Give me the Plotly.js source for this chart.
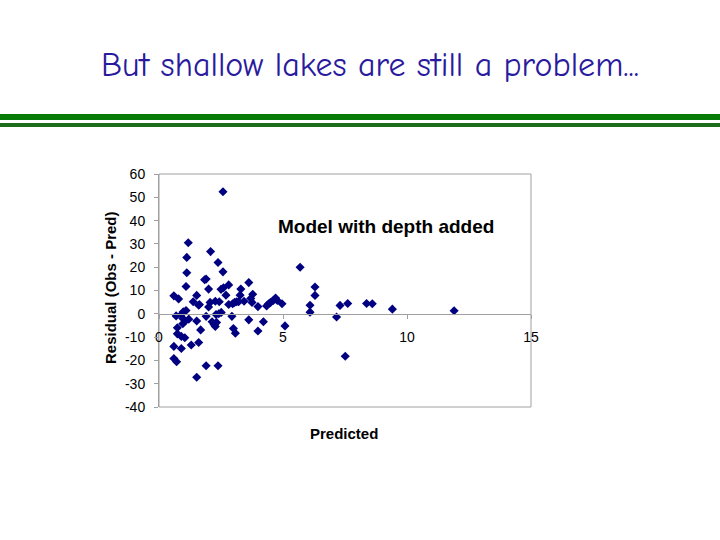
<!DOCTYPE html>
<html>
<head>
<meta charset="utf-8">
<script src="https://cdn.plot.ly/plotly-3.0.1.min.js"></script>
<style>
html,body{margin:0;padding:0;background:#fff;}
#chart{width:720px;height:540px;}
</style>
</head>
<body>
<div id="chart"></div>
<script>
// Predicted values (x) and residuals (y)
var predicted = [
  2.58, 1.18, 1.12, 2.08, 2.38, 1.12, 2.58, 1.09, 1.84, 1.90,
  2.00, 2.50, 2.60, 2.81, 3.62, 3.30, 1.52, 0.60, 2.70, 3.78,
  4.70, 0.79, 1.60, 0.69, 0.90, 0.98, 1.09, 0.96, 1.06, 1.20,
  0.96, 0.74, 0.74, 0.90, 1.04, 0.60, 0.90, 0.60, 0.71, 1.30,
  1.60, 1.52, 1.68, 1.38, 1.63, 1.52, 1.90, 2.38, 1.90, 2.00,
  2.06, 2.14, 2.22, 2.27, 2.32, 2.30, 2.41, 2.51, 2.27, 2.43,
  2.94, 3.00, 3.08, 2.81, 2.97, 3.05, 3.13, 3.21, 3.27, 3.43,
  3.62, 3.70, 3.75, 3.99, 4.21, 3.99, 4.34, 4.42, 4.50, 4.61,
  4.77, 4.96, 5.08, 5.69, 6.29, 6.29, 6.09, 6.09, 7.16, 7.30,
  7.61, 7.51, 8.37, 8.60, 9.41, 11.9
];
var residual = [
  52.4, 30.5, 24.2, 26.7, 22.0, 17.6, 18.0, 11.7, 14.6, 14.9,
  10.6, 10.5, 11.2, 12.4, 13.4, 10.6, 7.9, 7.7, 8.0, 8.4,
  6.8, 6.4, 3.7, -0.9, -0.3, 0.9, 1.4, -2.0, -3.1, -2.3,
  -4.3, -6.0, -8.6, -9.7, -10.3, -14.0, -14.9, -19.2, -20.6, -13.4,
  -12.3, -3.1, -6.9, 5.2, 4.0, -27.2, -22.3, -22.3, -1.1, 2.9,
  4.9, -3.4, -4.6, -5.4, -3.7, -0.3, 0.0, 0.6, 5.4, 5.2,
  -1.1, -6.3, -8.3, 4.0, 4.3, 4.9, 5.2, 5.2, 8.0, 5.4,
  -2.6, 6.6, 4.9, 3.1, -3.4, -7.4, 3.4, 4.3, 4.9, 5.7,
  5.7, 4.3, -5.2, 20.0, 11.5, 7.9, 3.7, 0.7, -1.4, 3.6,
  4.4, -18.2, 4.4, 4.3, 2.0, 1.3
];
var yTickVals = [-40, -30, -20, -10, 0, 10, 20, 30, 40, 50, 60];
var yTickText = ["-40", "-30", "-20", "-10", "0", "10", "20", "30", "40", "50", "60"];
var xTickVals = [0, 5, 10, 15];
var xTickText = ["0", "5", "10", "15"];

var W = 720, H = 540;
var L = 159, R = 531, T = 174, B = 407;
function px(x){ return x / W; }
function py(y){ return (H - y) / H; }
var zeroY = T + (B - T) * 60 / 100;

var trace = {
  x: predicted, y: residual, type: 'scatter', mode: 'markers',
  marker: {symbol: 'diamond', size: 7, color: '#000080'},
  hoverinfo: 'x+y'
};

var layout = {
  width: W, height: H,
  margin: {l: 0, r: 0, t: 0, b: 0},
  paper_bgcolor: '#ffffff', plot_bgcolor: '#ffffff',
  showlegend: false,
  font: {family: 'Arial, "Liberation Sans", sans-serif', color: '#000'},
  xaxis: {
    domain: [px(L), px(R)], range: [0, 15],
    anchor: 'free', position: py(zeroY),
    tickvals: xTickVals, ticktext: xTickText,
    showline: true, linecolor: '#a0a0a0', linewidth: 1,
    ticks: 'outside', ticklen: 4, tickcolor: '#a0a0a0',
    ticklabelstandoff: 6,
    showgrid: false, zeroline: false,
    tickfont: {size: 14, family: 'Arial, "Liberation Sans", sans-serif'}
  },
  yaxis: {
    domain: [py(B), py(T)], range: [-40, 60],
    tickvals: yTickVals, ticktext: yTickText,
    showline: true, linecolor: '#a0a0a0', linewidth: 1,
    ticks: 'outside', ticklen: 4, tickcolor: '#a0a0a0',
    ticklabelstandoff: 6,
    showgrid: false, zeroline: false,
    tickfont: {size: 14, family: 'Arial, "Liberation Sans", sans-serif'}
  },
  shapes: [
    {type: 'rect', xref: 'paper', yref: 'paper', x0: px(L), x1: px(R), y0: py(B), y1: py(T),
     line: {color: '#a0a0a0', width: 1}, fillcolor: 'rgba(0,0,0,0)', layer: 'below'},
    {type: 'rect', xref: 'paper', yref: 'paper', x0: 0, x1: 1, y0: py(120), y1: py(114),
     line: {width: 0}, fillcolor: '#087a08'},
    {type: 'rect', xref: 'paper', yref: 'paper', x0: 0, x1: 1, y0: py(127), y1: py(123),
     line: {width: 0}, fillcolor: '#1c6e1c'}
  ],
  annotations: [
    {text: 'But shallow lakes are still a problem...', xref: 'paper', yref: 'paper',
     x: px(370), y: py(65), xanchor: 'center', yanchor: 'middle', showarrow: false,
     font: {family: '"Comic Sans MS", "Comic Neue", Lato, sans-serif', size: 34, color: '#2a1a9e'}},
    {text: '<b>Model with depth added</b>', xref: 'paper', yref: 'paper',
     x: px(386), y: py(226), xanchor: 'center', yanchor: 'middle', showarrow: false,
     font: {size: 19, color: '#000'}},
    {text: '<b>Residual (Obs - Pred)</b>', xref: 'paper', yref: 'paper', textangle: -90,
     x: px(110), y: py(288), xanchor: 'center', yanchor: 'middle', showarrow: false,
     font: {size: 15, color: '#000'}},
    {text: '<b>Predicted</b>', xref: 'paper', yref: 'paper',
     x: px(344), y: py(433), xanchor: 'center', yanchor: 'middle', showarrow: false,
     font: {size: 15, color: '#000'}}
  ]
};

Plotly.newPlot('chart', [trace], layout, {displayModeBar: false, staticPlot: true});
</script>
</body>
</html>
